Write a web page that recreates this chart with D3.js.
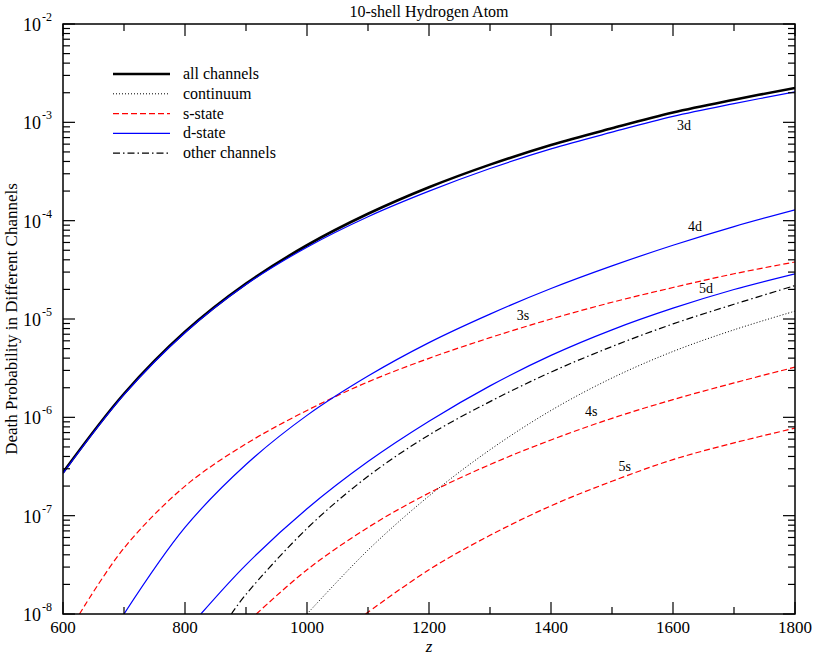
<!DOCTYPE html>
<html>
<head>
<meta charset="utf-8">
<script src="https://cdn.jsdelivr.net/npm/d3@7"></script>
<style>
  body { margin: 0; background: #fff; }
  text { font-family: "Liberation Serif", "DejaVu Serif", serif; }
</style>
</head>
<body>
<div id="chart"></div>
<script>
// values, stored as log10 of the probability
const zAll = [600, 700, 800, 900, 1000, 1100, 1200, 1300, 1400, 1500, 1600, 1700, 1800];
const allChannels = [-6.56, -5.76, -5.13, -4.64, -4.25, -3.93, -3.66, -3.43, -3.23, -3.06, -2.90, -2.77, -2.65];
const d3state = [-6.57, -5.77, -5.14, -4.65, -4.27, -3.96, -3.70, -3.47, -3.27, -3.10, -2.94, -2.81, -2.69];

const z4d = [700, 800, 900, 1000, 1100, 1200, 1300, 1400, 1500, 1600, 1700, 1800];
const d4state = [-8, -7.12, -6.48, -5.98, -5.58, -5.24, -4.95, -4.69, -4.46, -4.25, -4.06, -3.89];

const z5d = [826, 900, 1000, 1100, 1200, 1300, 1400, 1500, 1600, 1700, 1800];
const d5state = [-8, -7.50, -6.93, -6.45, -6.04, -5.68, -5.37, -5.11, -4.89, -4.70, -4.54];

const z3s = [627, 700, 800, 900, 1000, 1100, 1200, 1300, 1400, 1500, 1600, 1700, 1800];
const s3state = [-8, -7.33, -6.70, -6.27, -5.93, -5.64, -5.40, -5.19, -5.00, -4.83, -4.68, -4.54, -4.42];

const z4s = [917, 1000, 1100, 1200, 1300, 1400, 1500, 1600, 1700, 1800];
const s4state = [-8, -7.55, -7.12, -6.77, -6.48, -6.23, -6.01, -5.82, -5.65, -5.49];

const z5s = [1096, 1200, 1300, 1400, 1500, 1600, 1700, 1800];
const s5state = [-8, -7.55, -7.20, -6.90, -6.65, -6.43, -6.26, -6.11];

const zOther = [876, 900, 1000, 1100, 1200, 1300, 1400, 1500, 1600, 1700, 1800];
const otherChannels = [-8, -7.80, -7.13, -6.60, -6.18, -5.84, -5.54, -5.28, -5.05, -4.85, -4.66];

const zCont = [1000, 1100, 1200, 1300, 1400, 1500, 1600, 1700, 1800];
const continuum = [-8, -7.35, -6.80, -6.33, -5.93, -5.60, -5.33, -5.11, -4.92];

const curveLabels = ["3d", "4d", "5d", "3s", "4s", "5s"];
const labelZ = [1618, 1636, 1654, 1354, 1466, 1521];
const labelLog = [-3.03, -4.06, -4.69, -4.96, -5.94, -6.50];

const legendNames = ["all channels", "continuum", "s-state", "d-state", "other channels"];
const xTicks = [600, 800, 1000, 1200, 1400, 1600, 1800];
const yDecades = [-8, -7, -6, -5, -4, -3, -2];

const width = 814, height = 654;
const margin = { top: 24, right: 19, bottom: 40, left: 63 };

const svg = d3.select("#chart").append("svg")
    .attr("width", width)
    .attr("height", height);

const x = d3.scaleLinear().domain([600, 1800]).range([margin.left, width - margin.right]);
const y = d3.scaleLog().domain([1e-8, 1e-2]).range([height - margin.bottom, margin.top]);

svg.append("defs").append("clipPath").attr("id", "clip")
  .append("rect")
    .attr("x", margin.left).attr("y", margin.top)
    .attr("width", x.range()[1] - margin.left)
    .attr("height", y.range()[0] - margin.top);

const styles = {
  all:   { stroke: "#000", width: 2.6, dash: null },
  cont:  { stroke: "#000", width: 1, dash: "1,2" },
  s:     { stroke: "#ff0000", width: 1.2, dash: "6,3" },
  d:     { stroke: "#0000ff", width: 1.2, dash: null },
  other: { stroke: "#000", width: 1.2, dash: "7,3,1.5,3" }
};

const series = [
  { z: z3s, v: s3state, st: styles.s },
  { z: z4s, v: s4state, st: styles.s },
  { z: z5s, v: s5state, st: styles.s },
  { z: zCont, v: continuum, st: styles.cont },
  { z: zOther, v: otherChannels, st: styles.other },
  { z: z4d, v: d4state, st: styles.d },
  { z: z5d, v: d5state, st: styles.d },
  { z: zAll, v: allChannels, st: styles.all },
  { z: zAll, v: d3state, st: styles.d }
];

const line = d3.line()
    .x(d => x(d[0]))
    .y(d => y(Math.pow(10, d[1])))
    .curve(d3.curveCatmullRom.alpha(0.5));

const plot = svg.append("g").attr("clip-path", "url(#clip)");
series.forEach(s => {
  plot.append("path")
      .datum(s.z.map((zz, i) => [zz, s.v[i]]))
      .attr("fill", "none")
      .attr("stroke", s.st.stroke)
      .attr("stroke-width", s.st.width)
      .attr("stroke-dasharray", s.st.dash)
      .attr("d", line);
});

// curve labels
curveLabels.forEach((t, i) => {
  svg.append("text")
      .attr("x", x(labelZ[i]))
      .attr("y", y(Math.pow(10, labelLog[i])))
      .attr("text-anchor", "middle")
      .attr("dy", "0.35em")
      .attr("font-size", 14)
      .text(t);
});

// frame
const x0 = margin.left, x1 = width - margin.right, y0 = height - margin.bottom, y1 = margin.top;
svg.append("rect")
    .attr("x", x0).attr("y", y1)
    .attr("width", x1 - x0).attr("height", y0 - y1)
    .attr("fill", "none").attr("stroke", "#000").attr("stroke-width", 1.5);

const ticks = svg.append("g").attr("stroke", "#000").attr("stroke-width", 1.2);

// x ticks (inward, bottom and top)
d3.range(600, 1801, 100).forEach(v => {
  const len = v % 200 === 0 ? 12 : 7;
  ticks.append("line").attr("x1", x(v)).attr("x2", x(v)).attr("y1", y0).attr("y2", y0 - len);
  ticks.append("line").attr("x1", x(v)).attr("x2", x(v)).attr("y1", y1).attr("y2", y1 + len);
});
xTicks.forEach(v => {
  svg.append("text")
      .attr("x", x(v)).attr("y", y0 + 19)
      .attr("text-anchor", "middle")
      .attr("font-size", 17)
      .text(v);
});

// y ticks, log decades with minor ticks
yDecades.forEach(e => {
  for (let m = 1; m <= 9; m++) {
    if (e === -2 && m > 1) break;
    const val = m * Math.pow(10, e);
    const len = m === 1 ? 12 : 7;
    ticks.append("line").attr("x1", x0).attr("x2", x0 + len).attr("y1", y(val)).attr("y2", y(val));
    ticks.append("line").attr("x1", x1).attr("x2", x1 - len).attr("y1", y(val)).attr("y2", y(val));
  }
  svg.append("text")
      .attr("x", x0 - 22).attr("y", y(Math.pow(10, e)) + 7)
      .attr("text-anchor", "end")
      .attr("font-size", 18)
      .text("10");
  svg.append("text")
      .attr("x", x0 - 21).attr("y", y(Math.pow(10, e)) - 3)
      .attr("font-size", 12)
      .text(e);
});

// titles
svg.append("text")
    .attr("x", (x0 + x1) / 2).attr("y", 17)
    .attr("text-anchor", "middle")
    .attr("font-size", 16)
    .text("10-shell Hydrogen Atom");

svg.append("text")
    .attr("x", (x0 + x1) / 2).attr("y", 652)
    .attr("text-anchor", "middle")
    .attr("font-size", 17)
    .attr("font-style", "italic")
    .text("z");

svg.append("text")
    .attr("transform", `translate(17,${(y0 + y1) / 2}) rotate(-90)`)
    .attr("text-anchor", "middle")
    .attr("font-size", 17)
    .text("Death Probability in Different Channels");

// legend
const legendStyles = [styles.all, styles.cont, styles.s, styles.d, styles.other];
legendNames.forEach((name, i) => {
  const ly = 74 + i * 19.8;
  const st = legendStyles[i];
  svg.append("line")
      .attr("x1", 113).attr("x2", 170).attr("y1", ly).attr("y2", ly)
      .attr("stroke", st.stroke).attr("stroke-width", st.width)
      .attr("stroke-dasharray", st.dash);
  svg.append("text")
      .attr("x", 183).attr("y", ly + 5)
      .attr("font-size", 16)
      .text(name);
});
</script>
</body>
</html>
